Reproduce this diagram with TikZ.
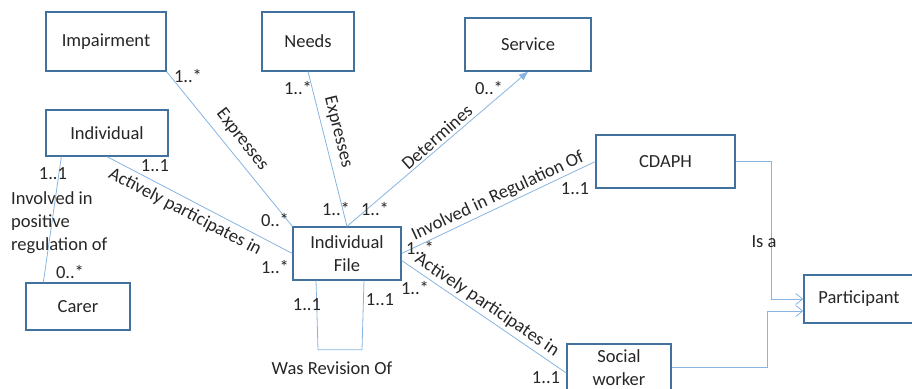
\documentclass[tikz,border=0pt]{standalone}
\usepackage{fontspec}
\setmainfont{Carlito}
\usetikzlibrary{calc,arrows.meta}
\definecolor{boxblue}{RGB}{65,113,156}
\definecolor{linkblue}{RGB}{135,180,225}

\begin{document}
\begin{tikzpicture}[
      x = 1pt, y = -1pt,
      every node/.style = {
        inner sep = 0pt, text = black!85, font = \fontsize{18.5}{23}\selectfont},
      box/.style = {draw = boxblue, line width = 1.3pt, align = center},
      link/.style = {draw = linkblue, line width = .8pt},
      isa/.style = {link, -{Straight Barb[length=7pt,width=11pt]}}
      ]
    \useasboundingbox (0,0) rectangle (912,388);
    % classes
    \node[box, minimum width = 120pt, minimum height = 59pt] (Imp) at (106,41.5) {Impairment};
    \node[box, minimum width = 92pt, minimum height = 59pt] (Needs) at (308,41.5) {Needs};
    \node[box, minimum width = 126pt, minimum height = 53pt] (Serv) at (528,44.5) {Service};
    \node[box, minimum width = 122pt, minimum height = 46pt] (Indiv) at (107,133) {Individual};
    \node[box, minimum width = 104pt, minimum height = 47pt] (Carer) at (78,306.5) {Carer};
    \node[box, minimum width = 108pt, minimum height = 53pt] (File) at (347,253.5) {Individual\\File};
    \node[box, minimum width = 139pt, minimum height = 53pt] (Cdaph) at (665.5,161.5) {CDAPH};
    \node[box, minimum width = 118pt, minimum height = 48pt] (Part) at (863,299) {\hspace*{-8pt}Participant};
    \node[box, minimum width = 104pt, minimum height = 48pt] (Social) at (619,368) {Social\\worker};
    % associations
    \draw[link] (Imp.south east) -- (File.north west);
    \draw[link] (Needs.south) -- (File.north);
    \draw[link, -{Triangle[length=9pt,width=7pt]}] (File.north) -- (Serv.south);
    \draw[link] (Indiv.south) -- (File.west);
    \draw[link] ($(Indiv.south west)+(16,0)$) -- ($(Carer.north west)+(18,0)$);
    \draw[link] (File.east) -- (Cdaph.west);
    \draw[link] ($(File.east)+(0,7)$) -- ($(Social.west)+(0,5)$);
    \draw[link] ($(File.south)+(-31,0)$) -- ++(2,69) -- ++(44,0) -- ($(File.south)+(17,0)$);
    \draw[isa] (Cdaph.east) -- ++(36,0) |- (Part.west);
    \draw[isa] ($(Social.east)+(0,-1)$) -- ++(96,0) |- ($(Part.west)+(0,12)$);
    % role names
    \node[rotate = -52] (ExA) at (242,140) {Expresses};
    \node[rotate = -76] (ExB) at (338,132) {Expresses};
    \node[rotate = 41.5] (Det) at (437,137) {Determines};
    \node[rotate = -27.5] (ApA) at (185,212) {Actively participates in};
    \node[rotate = 25] (Reg) at (498,196) {Involved in Regulation Of};
    \node[rotate = -34] (ApB) at (487,305) {Actively participates in};
    \node[anchor = west, align = left] (Pos) at (11,223) {Involved in\\positive\\regulation of};
    \node (Rev) at (332,368) {Was Revision Of};
    \node (Isa) at (764,242) {Is a};
    % multiplicities
    \node (m1) at (188,76) {1..*};
    \node (m2) at (298,88) {1..*};
    \node (m3) at (489,88) {0..*};
    \node (m4) at (155,166) {1..1};
    \node (m5) at (53,174) {1..1};
    \node (m6) at (70,272) {0..*};
    \node (m7) at (275,220) {0..*};
    \node (m8) at (275,267) {1..*};
    \node (m9) at (336,209) {1..*};
    \node (m10) at (375,209) {1..*};
    \node (m11) at (575,189) {1..1};
    \node (m12) at (420,248) {1..*};
    \node (m13) at (415,288) {1..*};
    \node (m14) at (546,378) {1..1};
    \node (m15) at (307,305) {1..1};
    \node (m16) at (380,300) {1..1};
\end{tikzpicture}
\end{document}
